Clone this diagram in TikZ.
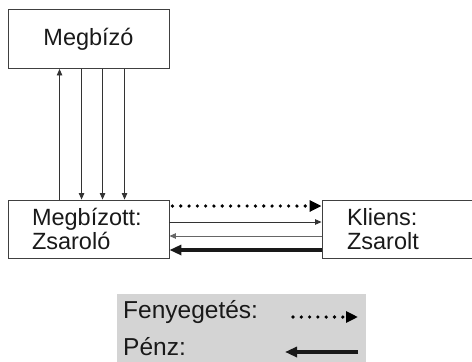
\documentclass[tikz,border=0pt]{standalone}
\usepackage{fontspec}
\setmainfont{Liberation Sans}
\usetikzlibrary{arrows.meta}

\definecolor{legendgray}{HTML}{D4D4D4}
\definecolor{linegray}{HTML}{333333}

\tikzstyle{party}=[rectangle,draw=black!75,line width=0.9pt,inner sep=0pt,text=black!90,font=\fontsize{23.5}{24}\selectfont]
\tikzstyle{agent}=[party,minimum height=58pt,text width=113pt,align=left]
\tikzstyle{thin}=[draw=linegray,line width=0.9pt,-{Triangle[length=6.5pt,width=5.5pt]}]
\tikzstyle{threat}=[draw=black,line width=3.6pt,line cap=round,dash pattern=on 0pt off 8.3pt,-{Triangle[length=12pt,width=11pt]}]
\tikzstyle{money}=[draw=black!90,line width=3.2pt,-{Triangle[length=12pt,width=10pt]}]
\tikzstyle{legtext}=[anchor=base west,inner sep=0pt,text=black!90,font=\fontsize{24.5}{25}\selectfont]

\begin{document}
\begin{tikzpicture}[x=1pt,y=-1pt]
        \useasboundingbox (0,0) rectangle (472,362);
        \draw (88.5,39) node[party,minimum width=161pt,minimum height=59pt](mb){Megbízó};
        \draw (88.5,229) node[agent,minimum width=161pt,inner xsep=24pt](zs){Megbízott:\\Zsaroló};
        \draw (402,229) node[agent,minimum width=160pt,inner xsep=25pt,text width=110pt](kl){Kliens:\\Zsarolt};
        %
        \path
            ([xshift=52pt]zs.north west)    edge[thin]      ([xshift=52pt]mb.south west)
            ([xshift=74pt]mb.south west)    edge[thin]      ([xshift=74pt]zs.north west)
            ([xshift=95pt]mb.south west)    edge[thin]      ([xshift=95pt]zs.north west)
            ([xshift=117pt]mb.south west)   edge[thin]      ([xshift=117pt]zs.north west)
            ([yshift=23pt,xshift=3pt]zs.east)  edge[threat]  ([yshift=23pt]kl.west)
            ([yshift=7pt]zs.east)           edge[thin]      ([yshift=7pt]kl.west)
            ([yshift=-7pt]kl.west)          edge[thin,draw=black!60] ([yshift=-7pt]zs.east)
            ([yshift=-21pt]kl.west)         edge[money]     ([yshift=-21pt]zs.east)
        ;
        % legend
        \fill[legendgray] (117,294) rectangle (366,362);
        \draw (123,318) node[legtext](fen){Fenyegetés:};
        \draw (123,355) node[legtext](penz){Pénz:};
        \coordinate (f1) at (293,317);
        \coordinate (f2) at (358,317);
        \coordinate (p1) at (358,352);
        \coordinate (p2) at (285,352);
        \path (f1) edge[threat] (f2)
              (p1) edge[money] (p2);
\end{tikzpicture}
\end{document}
